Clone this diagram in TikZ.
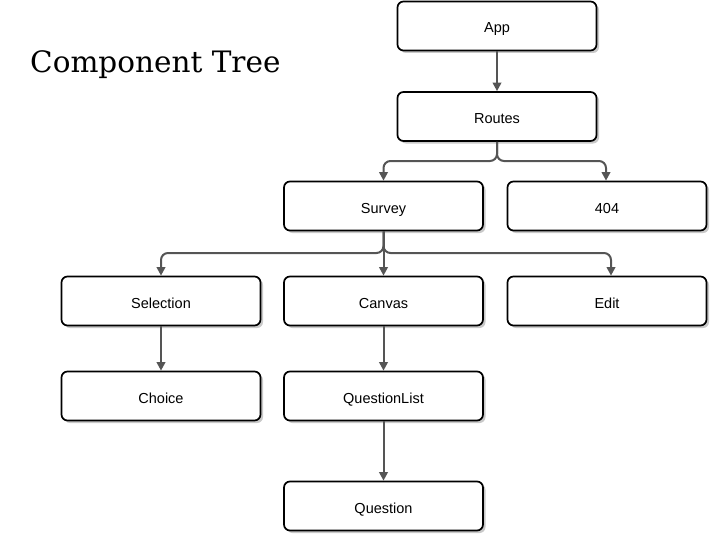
\documentclass[tikz,border=0pt]{standalone}
\usepackage{fontspec}
\setmainfont{Liberation Sans}
\newfontfamily\titlefont{DejaVu Serif}
\usetikzlibrary{arrows.meta,shadows}
\definecolor{edgegray}{HTML}{555555}
\tikzset{
  comp/.style={draw=black, line width=1.7pt, rounded corners=6pt, fill=white,
    minimum width=199pt, minimum height=49pt, font=\fontsize{14.5}{16}\selectfont,
    text height=14pt, text depth=0pt,
    drop shadow={shadow xshift=2.5pt, shadow yshift=-2.5pt, fill=black!30, opacity=0.7}},
  edge/.style={draw=edgegray, line width=2pt, rounded corners=7pt,
    -{Triangle[width=8.5pt,length=8.5pt]}},
}
\begin{document}
\begin{tikzpicture}[x=1pt,y=-1pt]
\useasboundingbox (0,0) rectangle (711,535);
\node[font=\titlefont\fontsize{29.5}{34}\selectfont, anchor=base west, inner sep=0pt] (title) at (30,72) {Component Tree};
\node[comp] (app) at (497,26) {App};
\node[comp] (routes) at (497,116.5) {Routes};
\node[comp] (survey) at (383.5,206) {Survey};
\node[comp] (e404) at (607,206) {404};
\node[comp] (selection) at (161,301) {Selection};
\node[comp] (canvas) at (383.5,301) {Canvas};
\node[comp] (edit) at (607,301) {Edit};
\node[comp] (choice) at (161,396) {Choice};
\node[comp] (qlist) at (383.5,396) {QuestionList};
\node[comp] (question) at (383.5,506) {Question};
\coordinate (rj) at (497,161);
\coordinate (sj) at (383.5,253);
\draw[edge] (app) -- (routes);
\draw[edge] (routes.south) -- (rj) -| (survey.north);
\draw[edge] (routes.south) -- (rj) -| ([xshift=-1pt]e404.north);
\draw[edge] (survey.south) -- (sj) -| (selection.north);
\draw[edge] (survey.south) -- (canvas.north);
\draw[edge] (survey.south) -- (sj) -| ([xshift=4pt]edit.north);
\draw[edge] (selection) -- (choice);
\draw[edge] (canvas) -- (qlist);
\draw[edge] (qlist) -- (question);
\end{tikzpicture}
\end{document}
